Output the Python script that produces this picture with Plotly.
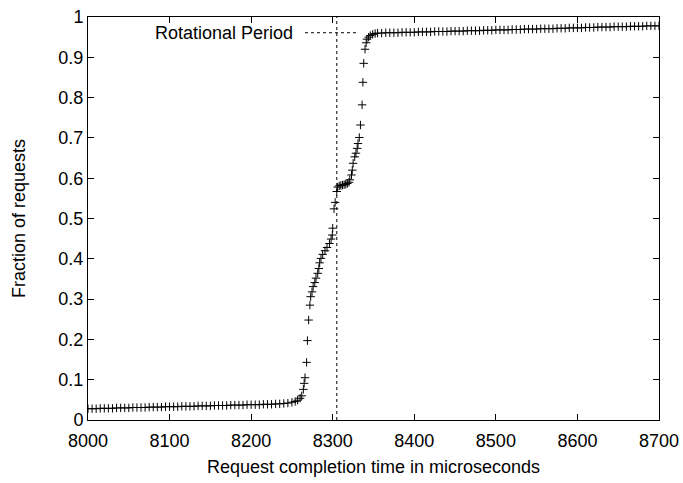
import plotly.graph_objects as go

# Lower plateau
x_low = [8000, 8005, 8010, 8015, 8020, 8025, 8030, 8035, 8040, 8045,
         8050, 8055, 8060, 8065, 8070, 8075, 8080, 8085, 8090, 8095,
         8100, 8105, 8110, 8115, 8120, 8125, 8130, 8135, 8140, 8145,
         8150, 8155, 8160, 8165, 8170, 8175, 8180, 8185, 8190, 8195,
         8200, 8205, 8210, 8215, 8220, 8225, 8230, 8235, 8240, 8245,
         8250]
y_low = [0.028, 0.028, 0.028, 0.029, 0.029, 0.029, 0.029, 0.030, 0.030, 0.030,
         0.030, 0.031, 0.031, 0.031, 0.031, 0.032, 0.032, 0.032, 0.032, 0.033,
         0.033, 0.033, 0.033, 0.034, 0.034, 0.034, 0.034, 0.035, 0.035, 0.035,
         0.035, 0.036, 0.036, 0.036, 0.036, 0.037, 0.037, 0.037, 0.037, 0.038,
         0.038, 0.038, 0.038, 0.039, 0.039, 0.039, 0.040, 0.040, 0.041, 0.042,
         0.044]

# Transition region
x_mid = [8254, 8257, 8260, 8262, 8264, 8265, 8266, 8268, 8269, 8270.5,
         8272, 8273, 8274.6, 8276, 8278, 8279.5, 8281.6, 8283, 8284, 8285.6,
         8287.7, 8290.5, 8293, 8296, 8298, 8299.5, 8300, 8301.6, 8303, 8305,
         8306, 8308, 8310, 8312, 8314, 8316, 8318, 8320, 8321, 8323,
         8324, 8325, 8327, 8328.5, 8330, 8331, 8332.6, 8334, 8336, 8337,
         8338, 8339.6, 8341, 8342, 8344, 8346, 8349, 8352, 8355]
y_mid = [0.046, 0.049, 0.054, 0.060, 0.076, 0.091, 0.105, 0.143, 0.197, 0.248,
         0.285, 0.306, 0.318, 0.331, 0.341, 0.352, 0.364, 0.376, 0.390, 0.401,
         0.411, 0.420, 0.428, 0.438, 0.449, 0.459, 0.476, 0.524, 0.540, 0.567,
         0.578, 0.581, 0.582, 0.583, 0.584, 0.585, 0.587, 0.590, 0.596, 0.608,
         0.620, 0.637, 0.653, 0.662, 0.674, 0.686, 0.701, 0.732, 0.782, 0.838,
         0.885, 0.920, 0.936, 0.945, 0.950, 0.954, 0.957, 0.959, 0.960]

# Upper plateau
x_high = [8360, 8365, 8370, 8375, 8380, 8385, 8390, 8395, 8400, 8405,
          8410, 8415, 8420, 8425, 8430, 8435, 8440, 8445, 8450, 8455,
          8460, 8465, 8470, 8475, 8480, 8485, 8490, 8495, 8500, 8505,
          8510, 8515, 8520, 8525, 8530, 8535, 8540, 8545, 8550, 8555,
          8560, 8565, 8570, 8575, 8580, 8585, 8590, 8595, 8600, 8605,
          8610, 8615, 8620, 8625, 8630, 8635, 8640, 8645, 8650, 8655,
          8660, 8665, 8670, 8675, 8680, 8685, 8690, 8695, 8700]
y_high = [0.960, 0.961, 0.961, 0.961, 0.961, 0.962, 0.962, 0.962, 0.962, 0.963,
          0.963, 0.963, 0.963, 0.964, 0.964, 0.964, 0.964, 0.965, 0.965, 0.965,
          0.965, 0.966, 0.966, 0.966, 0.966, 0.967, 0.967, 0.967, 0.968, 0.968,
          0.968, 0.968, 0.969, 0.969, 0.969, 0.970, 0.970, 0.970, 0.970, 0.971,
          0.971, 0.971, 0.971, 0.972, 0.972, 0.972, 0.973, 0.973, 0.973, 0.973,
          0.974, 0.974, 0.974, 0.975, 0.975, 0.975, 0.975, 0.976, 0.976, 0.976,
          0.976, 0.977, 0.977, 0.977, 0.977, 0.978, 0.978, 0.978, 0.978]

rot_period = 8305
key_label = "Rotational Period"
key_y = 0.961
key_x0, key_x1 = 8266, 8330

x_ticks = [8000, 8100, 8200, 8300, 8400, 8500, 8600, 8700]
y_ticks = [0, 0.1, 0.2, 0.3, 0.4, 0.5, 0.6, 0.7, 0.8, 0.9, 1]

xs = x_low + x_mid + x_high
ys = y_low + y_mid + y_high

FONT = "Liberation Sans, Arial, sans-serif"

fig = go.Figure()
fig.add_trace(go.Scatter(
    x=xs, y=ys, mode="markers",
    marker=dict(symbol="cross-thin", size=6, color="black",
                line=dict(color="black", width=1)),
    showlegend=False, cliponaxis=True,
))

# vertical rotational period line
fig.add_shape(type="line", x0=rot_period, x1=rot_period, y0=0, y1=1,
              xref="x", yref="y", line=dict(color="black", width=1, dash="3px,3px"))
# key sample line
fig.add_shape(type="line", x0=key_x0, x1=key_x1, y0=key_y, y1=key_y,
              xref="x", yref="y", line=dict(color="black", width=1, dash="3px,3px"))
fig.add_annotation(x=key_x0, y=key_y, xref="x", yref="y", text=key_label,
                   showarrow=False, xanchor="right", yanchor="middle", xshift=-10,
                   font=dict(family=FONT, size=18, color="black"))

axis_common = dict(
    showline=True, linecolor="black", linewidth=1, mirror="ticks",
    ticks="inside", ticklen=6, tickcolor="black", tickwidth=1,
    showgrid=False, zeroline=False, automargin=False,
    tickfont=dict(family=FONT, size=18, color="black"),
)

fig.update_xaxes(range=[8000, 8700], tickvals=x_ticks, ticktext=[str(v) for v in x_ticks],
                 ticklabelstandoff=4,
                 title=dict(text="Request completion time in microseconds",
                            font=dict(family=FONT, size=18, color="black"), standoff=10),
                 **axis_common)
fig.update_yaxes(range=[0, 1], tickvals=y_ticks, ticktext=[f"{v:g}" for v in y_ticks],
                 title=dict(text="Fraction of requests",
                            font=dict(family=FONT, size=18, color="black"), standoff=28),
                 **axis_common)

fig.update_layout(
    width=683, height=483,
    margin=dict(l=88, r=24, t=17, b=63),
    plot_bgcolor="white", paper_bgcolor="white",
    font=dict(family=FONT, size=18, color="black"),
)

fig.write_html("out.html")
